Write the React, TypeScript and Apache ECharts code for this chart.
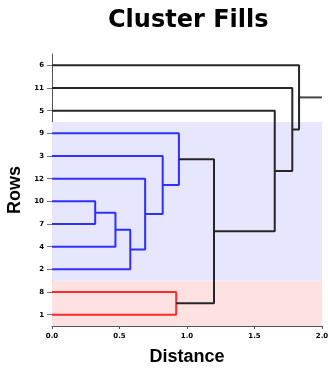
import React, { useEffect, useRef } from "react";
import * as echarts from "echarts";

// Leaves, bottom to top
const leafOrder = ["1", "8", "2", "4", "7", "10", "12", "3", "9", "5", "11", "6"];
// Merges (node ids m0..m10): left child, right child, height, cluster
const mergeLeft = ["10", "m0", "m1", "m2", "m3", "m4", "8", "m5", "m7", "m8", "m9"];
const mergeRight = ["7", "4", "2", "12", "3", "9", "1", "m6", "5", "11", "6"];
const mergeHeight = [0.32, 0.47, 0.58, 0.69, 0.82, 0.94, 0.92, 1.2, 1.65, 1.78, 1.83];
const mergeCluster = ["blue", "blue", "blue", "blue", "blue", "blue", "red", "none", "none", "none", "none"];
const xTicks = [0, 0.5, 1, 1.5, 2];

const clusterColors: Record<string, string> = { blue: "#2f2fff", red: "#ff2a2a", none: "#262626" };
const bandColors: Record<string, string> = { blue: "#e6e6fe", red: "#fee2e2" };

function buildTree() {
  const pos: Record<string, [number, number]> = {};
  const leavesOf: Record<string, number[]> = {};
  leafOrder.forEach((l, i) => {
    pos[l] = [0, i + 1];
    leavesOf[l] = [i + 1];
  });
  const links: { pts: [number, number][]; color: string }[] = [];
  const bands: Record<string, [number, number]> = {};
  mergeHeight.forEach((h, i) => {
    const a = pos[mergeLeft[i]];
    const b = pos[mergeRight[i]];
    const id = "m" + i;
    pos[id] = [h, (a[1] + b[1]) / 2];
    leavesOf[id] = [...leavesOf[mergeLeft[i]], ...leavesOf[mergeRight[i]]];
    const c = mergeCluster[i];
    links.push({ pts: [[a[0], a[1]], [h, a[1]], [h, b[1]], [b[0], b[1]]], color: clusterColors[c] });
    if (c !== "none") {
      const ls = leavesOf[id];
      const lo = Math.min(...ls) - 0.5;
      const hi = Math.max(...ls) + 0.5;
      bands[c] = bands[c] ? [Math.min(bands[c][0], lo), Math.max(bands[c][1], hi)] : [lo, hi];
    }
  });
  const root = pos["m" + (mergeHeight.length - 1)];
  return { links, bands, root };
}

export default function App() {
  const ref = useRef<HTMLDivElement>(null);
  useEffect(() => {
    document.body.style.margin = "0";
    document.documentElement.style.overflow = "hidden";
    const chart = echarts.init(ref.current!, undefined, { renderer: "svg" });
    const { links, bands, root } = buildTree();
    const xMax = xTicks[xTicks.length - 1];
    const series: any[] = [];
    series.push({
      type: "line",
      data: [[root[0], root[1]], [xMax, root[1]]],
      symbol: "none",
      silent: true,
      lineStyle: { color: "#444", width: 2 },
      z: 3,
      markArea: {
        silent: true,
        z: 1,
        data: Object.keys(bands).map((c) => [
          { xAxis: xTicks[0], yAxis: bands[c][0], itemStyle: { color: bandColors[c] } },
          { xAxis: xMax, yAxis: bands[c][1] },
        ]),
      },
    });
    links.forEach((l) => {
      series.push({
        type: "line",
        data: l.pts,
        symbol: "none",
        silent: true,
        lineStyle: { color: l.color, width: 2 },
        z: 3,
      });
    });
    chart.setOption({
      animation: false,
      graphic: [
        {
          type: "text",
          left: 108,
          top: 7,
          style: {
            text: "Cluster Fills",
            fontSize: 24,
            fontWeight: "bold",
            fontFamily: "DejaVu Sans",
            fill: "#000",
          },
        },
      ],
      grid: { left: 52, right: 6, top: 54, bottom: 42, outerBoundsMode: "none", containLabel: false },
      xAxis: {
        type: "value",
        min: xTicks[0],
        max: xMax,
        interval: 0.5,
        name: "Distance",
        nameLocation: "middle",
        nameGap: 21,
        nameTextStyle: { fontSize: 18, fontWeight: "bold", fontFamily: "Liberation Sans", color: "#000" },
        axisLine: { lineStyle: { color: "#555", width: 1 } },
        axisTick: { show: true, length: 3, lineStyle: { color: "#555" } },
        axisLabel: {
          margin: 6,
          fontSize: 7,
          fontWeight: "bold",
          fontFamily: "DejaVu Sans",
          color: "#000",
          formatter: (v: number) => v.toFixed(1),
        },
        splitLine: { show: false },
      },
      yAxis: {
        type: "value",
        min: 0.5,
        max: leafOrder.length + 0.5,
        name: "Rows",
        nameLocation: "middle",
        nameRotate: 90,
        nameGap: 25,
        nameTextStyle: { fontSize: 18, fontWeight: "bold", fontFamily: "Liberation Sans", color: "#000" },
        axisLine: { show: true, lineStyle: { color: "#555", width: 1 } },
        axisTick: {
          show: true,
          length: 5,
          lineStyle: { color: "#777" },
          customValues: leafOrder.map((_, i) => i + 1),
        },
        axisLabel: {
          margin: 8,
          fontSize: 7,
          fontWeight: "bold",
          fontFamily: "DejaVu Sans",
          color: "#000",
          customValues: leafOrder.map((_, i) => i + 1),
          formatter: (v: number) => leafOrder[Math.round(v) - 1] ?? "",
        },
        splitLine: { show: false },
      },
      series,
    });
    return () => chart.dispose();
  }, []);
  return (
    <div
      ref={ref}
      style={{ position: "fixed", left: 0, top: 0, width: 328, height: 368 }}
    />
  );
}
